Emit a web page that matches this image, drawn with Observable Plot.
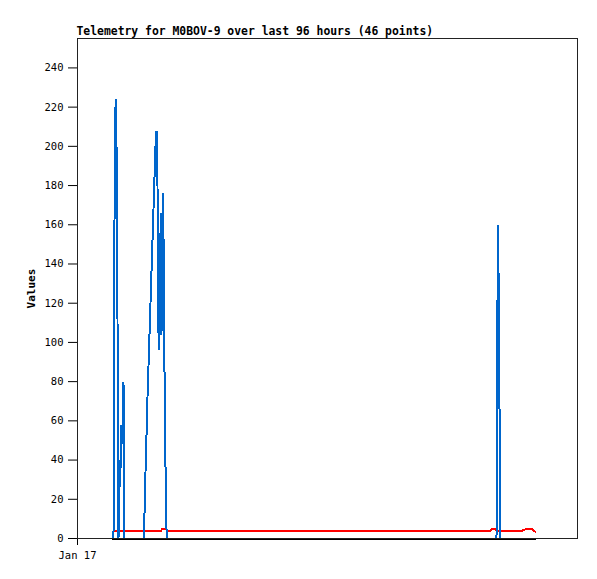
<!DOCTYPE html>
<html>
<head>
<meta charset="utf-8">
<script src="https://cdn.jsdelivr.net/npm/d3@7"></script>
<script src="https://cdn.jsdelivr.net/npm/@observablehq/plot@0.6"></script>
<style>
  html, body { margin: 0; padding: 0; background: #fff; }
  #chart svg [aria-label="y-axis label"] text { font-weight: bold; font-size: 11px; }
</style>
</head>
<body>
<div id="chart"></div>
<script>
// Title and axis text
const title = "Telemetry for M0BOV-9 over last 96 hours (46 points)";
const yLabel = "Values";
const yTicks = [0, 20, 40, 60, 80, 100, 120, 140, 160, 180, 200, 220, 240];
const startTime = Date.UTC(2024, 0, 17, 0, 0);   // "Jan 17"
const endMinutes = 1000;                          // x domain length (minutes after start)

// Blue series (minutes after Jan 17 00:00, value)
const blueMinutes = [68, 72, 73, 75, 77, 78.6, 80, 81, 82, 83.6,
  85, 86.6, 88, 89.4, 90.6, 92, 94,
  132, 133.6, 135, 136.6, 138.4, 140, 142, 144, 146, 148,
  150, 152, 154, 156, 158, 160, 161.2, 162.4, 164, 165.4,
  166.6, 168, 169.2, 170.6, 172, 173.2, 174.6, 176.6, 178.4,
  838, 839.2, 840.8, 842.8, 844.6, 846, 916];
const blueValues = [0, 0, 104, 216, 224, 186, 112, 38, 0, 20,
  40, 36, 58, 48, 64, 80, 0,
  0, 8, 24, 40, 56, 72, 88, 104, 120, 136,
  152, 168, 184, 200, 208, 180, 124, 96, 126, 144,
  166, 104, 148, 176, 154, 112, 66, 24, 0,
  0, 80, 160, 120, 40, 0, 0];

// Red series
const redMinutes = [72.6, 166, 169, 178, 180, 825, 828, 836, 838, 889.4, 892, 899.4, 908, 912, 916];
const redValues  = [3.7, 3.7, 4.7, 4.7, 3.7, 3.7, 4.9, 4.9, 3.7, 3.7, 4.4, 4.9, 4.9, 4.2, 3.4];

// Black series
const blackMinutes = [69.4, 916];
const blackValues  = [0, 0];

const toRows = (mins, vals) => mins.map((m, i) => ({t: new Date(startTime + m * 60000), v: vals[i]}));
const blue = toRows(blueMinutes, blueValues);
const red = toRows(redMinutes, redValues);
const black = toRows(blackMinutes, blackValues);

const chart = Plot.plot({
  width: 597,
  height: 579,
  marginLeft: 77,
  marginRight: 20,
  marginTop: 38,
  marginBottom: 41,
  style: {fontFamily: "'DejaVu Sans Mono', monospace", fontSize: "10.5px", background: "#fff", color: "#000"},
  x: {type: "utc", domain: [new Date(startTime), new Date(startTime + endMinutes * 60000)]},
  y: {domain: [0, 255]},
  marks: [
    Plot.axisY({ticks: yTicks, tickSize: 9, tickPadding: 5, label: yLabel, labelAnchor: "center", labelArrow: "none", labelOffset: 50}),
    Plot.axisX({ticks: [new Date(startTime)], tickFormat: d3.utcFormat("%b %-d"), tickSize: 7, tickPadding: 6, label: null}),
    Plot.line(red, {x: "t", y: "v", stroke: "#ff0000", strokeWidth: 2, shapeRendering: "crispEdges"}),
    Plot.line(blue, {x: "t", y: "v", stroke: "#0066cc", strokeWidth: 2, strokeLinejoin: "miter", shapeRendering: "crispEdges"}),
    Plot.line(black, {x: "t", y: "v", stroke: "#000", strokeWidth: 2, shapeRendering: "crispEdges"}),
    Plot.frame({stroke: "#222", shapeRendering: "crispEdges"}),
    Plot.text([title], {frameAnchor: "top-left", textAnchor: "start", lineAnchor: "bottom", dy: -4, dx: -1,
      fontWeight: "bold", fontSize: 11.4, fill: "#000"})
  ]
});
document.getElementById("chart").appendChild(chart);
</script>
</body>
</html>
